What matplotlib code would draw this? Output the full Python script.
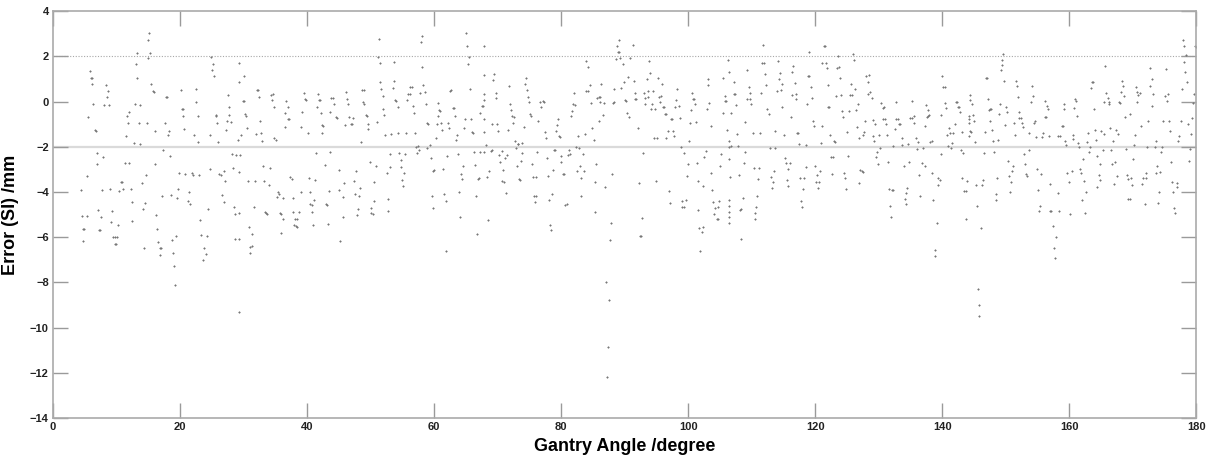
import numpy as np
import matplotlib
matplotlib.use("Agg")
import matplotlib.pyplot as plt

plt.rcParams['font.family'] = ['Liberation Sans', 'DejaVu Sans']

# (gantry angle [deg], error [mm]), grouped by angle range
pts_00_22 = [(4.42,-3.90),(4.57,-5.06),(4.75,-5.65),(4.85,-5.65),(4.78,-6.18),(5.31,-5.06),(5.57,-0.69),(5.41,-3.29),(5.78,1.35),(6.0,1.06),(6.13,1.03),(6.15,0.76),(6.36,-0.10),(6.56,-1.25),(6.72,-1.32),(6.94,-2.26),(6.94,-2.76),(7.15,-4.79),(7.25,-5.66),(7.45,-5.66),(7.57,-5.10),(7.72,-3.93),(7.93,-2.46),(8.09,-0.13),(8.30,0.74),(8.67,0.46),(8.56,0.19),(8.88,-0.15),(9.04,-3.85),(9.30,-4.84),(9.09,-5.32),(9.50,-6.01),(9.76,-6.01),(10.03,-6.01),(9.82,-6.31),(9.98,-6.31),(10.30,-5.46),(10.45,-3.97),(10.71,-3.57),(10.87,-3.57),(11.08,-3.88),(11.40,-2.72),(12.03,-2.72),(11.45,-1.54),(11.66,-0.63),(11.82,-0.94),(12.03,-0.44),(12.24,-3.87),(12.45,-4.43),(12.40,-5.29),(12.77,-1.85),(12.92,-0.10),(13.08,1.65),(13.19,2.16),(13.29,1.06),(13.50,-0.93),(13.71,-0.13),(13.76,-1.88),(14.03,-3.60),(14.13,-4.76),(14.29,-6.46),(14.45,-4.49),(14.60,-3.26),(14.76,-0.96),(14.92,1.91),(15.02,2.74),(15.08,3.03),(15.34,2.16),(15.50,0.79),(15.70,0.46),(15.86,0.41),(16.02,-1.31),(16.13,-2.75),(16.28,-5.01),(16.44,-5.62),(16.60,-6.22),(16.86,-6.46),(17.02,-6.46),(16.86,-6.79),(17.23,-4.19),(17.40,-2.16),(17.60,-0.94),(17.81,0.22),(17.97,0.22),(18.17,-1.47),(18.28,-1.28),(18.49,-2.40),(18.60,-4.15),(18.75,-6.12),(18.90,-6.72),(19.02,-7.29),(19.17,-8.13),(19.38,-5.94),(19.49,-4.25),(19.70,-3.85),(19.86,-3.18),(20.12,0.53),(20.28,-0.31),(20.43,-0.31),(20.49,-0.63),(20.64,-1.22),(20.80,-3.19),(21.38,-3.99),(21.54,-4.51),(21.33,-4.40),(21.90,-3.18),(22.01,-3.24),(22.20,-1.47)]

pts_22_45 = [(22.47,0.54),(22.58,-0.04),(22.79,-0.65),(22.90,-1.81),(23.00,-3.25),(23.16,-5.25),(23.37,-5.90),(23.74,-6.50),(23.63,-7.03),(24.05,-6.76),(24.31,-5.93),(24.47,-4.75),(24.68,-2.99),(24.73,-1.47),(24.94,1.96),(25.10,1.38),(25.26,1.66),(25.36,1.12),(25.63,-0.59),(25.73,-0.62),(25.89,-0.94),(26.05,-1.79),(26.15,-3.19),(26.41,-3.26),(26.68,-4.15),(26.89,-3.09),(26.94,-4.43),(27.10,-3.51),(27.25,-1.25),(27.36,-0.88),(27.62,0.29),(27.67,-0.25),(27.78,-0.59),(27.99,-0.90),(28.20,-2.34),(28.30,-2.96),(28.46,-4.66),(28.62,-6.10),(28.73,-4.97),(28.88,-2.38),(29.46,-2.38),(29.25,1.72),(29.30,0.88),(29.36,-4.94),(29.36,-6.10),(29.36,-3.12),(29.30,-9.29),(29.15,-1.71),(29.62,-1.47),(29.93,0.03),(30.09,0.03),(30.04,1.15),(30.30,-0.56),(30.41,-0.62),(30.62,-1.19),(30.77,-3.50),(30.88,-5.54),(31.09,-6.43),(31.30,-6.41),(31.04,-6.68),(31.40,-5.87),(31.67,-4.68),(31.77,-3.50),(31.98,-1.44),(32.19,0.53),(32.35,0.53),(32.40,0.22),(32.56,-0.87),(32.77,-1.41),(32.93,-1.74),(33.09,-2.85),(33.19,-3.50),(33.40,-4.88),(33.56,-4.94),(33.77,-4.96),(33.98,-3.68),(34.14,-2.96),(34.29,0.31),(34.61,0.35),(34.50,0.07),(34.82,-0.22),(34.87,-1.63),(35.08,-1.69),(35.24,-4.24),(35.40,-4.01),(35.61,-4.07),(35.76,-4.94),(35.97,-4.96),(35.87,-5.81),(36.18,-5.18),(36.24,-4.26),(36.45,-1.13),(36.60,-0.49),(36.76,0.04),(37.02,-0.22),(36.97,-0.75),(37.18,-0.79),(37.39,-3.35),(37.55,-3.41),(37.71,-4.28),(37.81,-4.88),(37.97,-5.44),(38.18,-5.51),(38.44,-5.53),(38.13,-5.21),(38.44,-5.21),(38.76,-4.87),(38.97,-3.99),(39.12,-1.12),(39.28,-0.47),(39.44,0.38),(39.60,0.12),(39.81,0.06),(40.07,-1.37),(40.28,-3.38),(40.44,-4.01),(40.49,-4.51),(40.70,-4.59),(40.70,-4.88),(40.86,-5.44),(41.07,-4.34),(41.28,-3.47),(41.43,-2.28),(41.49,-0.22),(41.70,0.32),(41.86,0.07),(42.01,0.07),(42.17,-0.49),(42.33,-1.03),(42.54,-1.10),(42.38,-1.37),(42.75,-2.79),(42.96,-4.51),(43.06,-4.56),(43.22,-5.41),(43.38,-3.96),(43.54,-2.22),(43.64,-0.46),(43.80,0.18),(44.11,0.18),(44.17,-0.09),(44.53,-0.66),(44.74,-0.74),(44.95,-3.01),(45.06,-3.93),(45.17,-6.16)]

pts_45_68 = [(45.58,-5.10),(45.68,-4.22),(45.84,-3.59),(45.95,-1.04),(46.10,0.43),(46.26,0.13),(46.42,-0.12),(46.63,-0.68),(47.21,-0.74),(46.94,-0.97),(47.15,-1.00),(47.42,-3.51),(47.47,-4.07),(47.68,-3.06),(47.84,-5.01),(48.00,-4.74),(48.15,-4.18),(48.36,-3.81),(48.47,-1.81),(48.62,0.51),(48.99,0.51),(48.78,-0.04),(48.99,-0.09),(49.25,-0.60),(49.41,-0.63),(49.57,-1.21),(49.67,-0.99),(49.83,-2.69),(50.09,-4.72),(50.04,-4.93),(50.36,-4.99),(50.46,-4.40),(50.57,-3.54),(50.78,-2.87),(50.99,-0.90),(51.14,1.96),(51.30,2.79),(51.41,1.69),(51.51,0.88),(51.67,0.54),(51.88,0.26),(51.99,-0.31),(52.14,-0.60),(52.30,-1.50),(52.51,-3.15),(52.67,-4.29),(52.77,-4.84),(52.98,-2.91),(53.09,-2.34),(53.25,-1.43),(53.46,0.60),(53.61,1.74),(53.72,0.93),(53.88,0.07),(54.03,0.04),(54.24,-0.26),(54.30,-1.40),(54.45,-2.29),(54.72,-2.60),(54.82,-2.90),(54.98,-3.47),(55.08,-3.72),(55.24,-3.18),(55.40,-2.31),(55.56,-1.37),(55.77,0.06),(55.92,0.35),(56.13,0.35),(56.24,0.65),(56.50,0.65),(56.61,-0.19),(56.76,-0.51),(56.97,-1.40),(57.18,-1.99),(57.45,-1.96),(57.29,-2.28),(57.55,-2.15),(57.71,0.40),(57.92,2.62),(58.08,2.91),(58.13,1.54),(58.29,0.72),(58.50,0.44),(58.66,-0.12),(58.81,-0.96),(59.02,-1.01),(58.92,-2.07),(59.28,-1.91),(59.44,-2.49),(59.60,-4.16),(59.76,-4.71),(59.86,-3.06),(60.02,-3.01),(60.23,-1.59),(60.44,-0.99),(60.55,-0.62),(60.65,-0.07),(60.81,-0.37),(60.97,-0.40),(61.12,-0.96),(61.23,-1.26),(61.39,-2.97),(61.60,-4.10),(61.91,-4.40),(61.81,-6.59),(62.02,-2.40),(62.17,-0.96),(62.33,-1.18),(62.54,0.49),(62.70,0.51),(62.96,-0.29),(63.12,-0.29),(63.22,-0.62),(63.43,-1.69),(63.59,-1.47),(63.69,-2.31),(63.85,-4.00),(64.01,-5.10),(64.27,-3.22),(64.43,-3.44),(64.54,-2.84),(64.70,-1.15),(64.85,-0.78),(64.96,3.03),(65.12,2.47),(65.33,1.66),(65.48,1.96),(65.64,0.57),(65.80,-0.76),(65.96,-1.35),(66.11,-1.40),(66.22,-2.24),(66.38,-2.79),(66.53,-4.19),(66.74,-5.84),(66.85,-3.41),(67.01,-3.38),(67.16,-2.25),(67.27,-0.51),(67.48,-0.19),(67.69,-0.19),(67.79,0.32),(67.90,0.07),(67.85,1.18),(67.90,2.44),(67.90,-0.76),(67.90,-1.34),(67.90,-2.25)]

pts_68_91 = [(68.16,-1.94),(68.32,-3.34),(68.53,-5.24),(68.69,-3.06),(68.95,-2.18),(69.06,-2.15),(69.16,-1.01),(69.48,1.21),(69.32,0.94),(69.69,0.37),(69.74,0.15),(69.90,-0.99),(70.06,-1.28),(70.27,-2.38),(70.37,-2.68),(70.63,-2.18),(70.84,-3.01),(70.63,-3.51),(71.05,-3.57),(71.21,-2.49),(71.37,-4.03),(71.53,-2.37),(71.58,-1.24),(71.79,0.69),(71.95,-0.10),(72.10,-0.37),(72.21,-0.65),(72.52,-0.68),(72.37,-0.96),(72.73,-1.75),(72.94,-2.04),(73.15,-1.87),(73.20,-1.87),(73.00,-2.87),(73.42,-3.43),(73.57,-3.46),(73.68,-2.63),(73.84,-1.82),(73.89,-2.29),(74.15,-1.13),(74.31,0.76),(74.47,1.03),(74.57,0.51),(74.73,0.22),(74.89,-0.03),(75.05,-0.57),(75.26,-0.62),(75.36,-2.76),(75.52,-3.35),(76.10,-3.35),(75.73,-4.19),(75.99,-4.19),(75.83,-4.46),(76.25,-2.22),(76.41,-0.85),(76.62,0.0),(77.09,0.03),(77.25,0.0),(76.83,-0.26),(77.41,-1.35),(77.62,-1.63),(77.78,-2.49),(77.99,-3.31),(78.14,-4.37),(78.30,-5.46),(78.41,-5.68),(78.62,-4.10),(78.77,-3.01),(78.93,-2.16),(79.09,-2.12),(79.25,-1.29),(79.35,-1.04),(79.51,-0.76),(79.67,-1.51),(79.88,-1.56),(79.99,-2.41),(79.99,-2.66),(80.30,-3.19),(80.50,-3.19),(80.67,-4.56),(80.88,-4.51),(81.08,-2.37),(81.30,-2.15),(81.45,-2.32),(81.61,-0.65),(81.66,-0.43),(81.87,-0.12),(82.19,-0.15),(82.03,0.38),(82.29,-2.00),(82.45,-3.07),(82.61,-1.54),(82.82,-2.07),(82.98,-2.85),(83.13,-3.40),(83.19,-4.18),(83.40,-2.31),(83.55,-3.07),(83.71,-1.44),(83.97,0.46),(84.18,0.49),(83.97,1.79),(84.29,1.53),(84.50,0.74),(84.71,-0.07),(84.92,-1.15),(85.13,-1.71),(85.34,-3.57),(85.39,-4.88),(85.55,-2.76),(85.71,0.16),(85.92,0.22),(86.18,0.22),(85.92,-0.84),(86.18,0.0),(86.34,0.76),(86.60,-0.59),(86.81,-0.06),(86.92,-3.76),(87.07,-7.97),(87.28,-12.19),(87.39,-10.88),(87.55,-8.76),(87.70,-6.13),(87.86,-5.35),(88.02,-3.22),(88.18,-0.06),(88.33,0.0),(88.39,0.54),(88.60,1.90),(88.75,2.46),(88.96,2.19),(89.17,2.19),(89.12,2.72),(89.28,1.94),(89.49,0.59),(89.70,1.65),(89.86,0.85),(90.07,0.07),(90.22,0.03),(90.33,-0.51),(90.54,1.07),(90.75,-0.68),(90.85,1.94)]

pts_91_114 = [(91.27,2.51),(91.48,0.93),(91.69,0.38),(91.58,0.13),(91.85,0.13),(92.06,-1.18),(92.27,-3.59),(92.42,-5.94),(92.53,-5.94),(92.69,-5.15),(92.84,-2.26),(93.00,0.37),(93.16,-0.09),(93.21,0.18),(93.47,0.99),(93.63,0.47),(93.74,0.22),(93.89,1.79),(94.05,1.26),(94.21,-0.32),(94.84,-0.32),(94.37,-0.10),(94.47,0.47),(94.63,-1.63),(95.05,-1.63),(95.00,-3.50),(95.26,1.04),(95.42,0.21),(95.68,0.24),(95.57,-0.03),(95.94,0.78),(96.05,-0.26),(96.20,-0.26),(96.36,-0.53),(96.57,-0.53),(96.57,-1.59),(96.84,-1.32),(97.00,-3.96),(97.15,-4.47),(97.36,-0.78),(97.52,-0.75),(97.57,-1.29),(97.78,-1.54),(97.89,-0.22),(98.04,0.06),(98.30,0.57),(98.57,-0.19),(98.73,-0.71),(98.83,-2.01),(98.99,-4.65),(99.36,-4.65),(99.09,-4.40),(99.62,-4.37),(99.30,-2.29),(99.83,-3.31),(99.99,-2.76),(100.09,-1.74),(100.25,-0.93),(100.41,-0.38),(100.62,0.38),(100.83,0.13),(101.04,-0.12),(100.72,0.13),(101.20,-0.90),(101.35,-2.72),(101.46,-3.50),(101.61,-4.81),(101.77,-5.59),(102.25,-5.57),(102.09,-5.79),(101.93,-6.60),(102.40,-3.74),(102.56,-2.43),(102.72,-2.18),(102.93,-0.34),(103.09,0.72),(103.09,0.99),(103.30,-0.06),(103.51,-1.09),(103.66,-3.16),(103.77,-3.93),(103.93,-4.43),(104.08,-4.97),(104.24,-4.71),(104.71,-4.68),(104.45,-5.21),(104.66,-5.21),(104.87,-4.41),(105.03,-2.85),(105.13,-2.34),(105.40,-0.51),(105.45,1.03),(105.71,0.03),(105.92,0.03),(105.82,0.26),(107.23,0.32),(107.39,0.32),(106.08,-1.25),(106.29,1.82),(106.34,1.32),(106.34,-1.75),(106.34,-1.99),(106.66,-1.97),(106.34,-2.53),(106.34,-4.35),(106.40,-4.60),(106.34,-4.87),(106.34,-5.10),(106.34,-5.37),(106.55,-3.32),(106.81,-0.49),(107.18,0.85),(107.44,-0.16),(107.60,-1.44),(107.76,-1.97),(107.97,-3.25),(108.13,-4.79),(108.34,-4.76),(108.23,-6.07),(108.55,-4.26),(108.76,-2.72),(108.92,-2.22),(108.97,-0.91),(109.18,0.12),(109.65,0.12),(109.28,1.41),(109.49,0.63),(109.70,0.38),(109.91,-0.10),(110.12,-1.37),(110.28,-2.93),(111.17,-2.93),(110.44,-5.21),(110.54,-4.93),(110.65,-4.68),(110.86,-4.18),(111.02,-3.43),(111.28,-1.37),(111.49,0.40),(111.65,1.72),(111.86,1.72),(111.80,2.49),(112.07,1.24),(112.22,0.72),(112.43,-0.31),(112.64,-0.53),(112.85,-2.07),(113.59,-2.07),(113.01,-3.34),(113.17,-3.84),(113.38,-3.57),(113.48,-3.07),(113.64,-1.29)]

pts_114_136 = [(114.12,1.78),(114.38,1.28),(114.22,1.01),(114.70,0.79),(113.96,0.49),(114.54,0.53),(114.80,-0.22),(115.01,-1.50),(115.17,-2.49),(115.38,-2.72),(115.96,-2.72),(115.75,-2.99),(115.54,-3.46),(115.64,-3.74),(116.11,-0.69),(116.38,1.31),(116.53,1.59),(116.74,0.84),(116.32,0.29),(117.01,0.34),(116.90,0.10),(117.16,-1.41),(117.32,-1.40),(117.48,-1.88),(118.53,-1.91),(117.64,-3.40),(118.27,-3.40),(117.74,-4.40),(117.90,-4.65),(118.06,-3.87),(118.48,-2.91),(118.69,-0.12),(118.90,1.13),(119.05,1.13),(119.00,2.18),(119.32,0.65),(119.47,0.16),(119.63,-0.84),(119.84,-1.09),(119.95,-2.84),(120.21,-3.26),(120.05,-3.57),(120.58,-3.57),(120.42,-3.81),(120.68,-3.09),(120.84,-1.84),(121.00,-1.09),(121.10,1.69),(121.63,1.72),(121.37,2.46),(121.52,2.46),(121.79,1.47),(121.94,0.72),(122.00,-0.26),(122.21,-0.24),(122.36,-1.47),(122.52,-2.47),(122.84,-2.47),(122.63,-3.22),(122.89,-1.75),(123.10,-1.81),(123.20,0.24),(123.52,2.01),(123.36,1.47),(123.73,1.53),(123.89,1.03),(124.04,0.28),(124.25,-0.43),(124.36,-0.66),(124.52,-3.16),(124.73,-3.40),(124.83,-3.88),(124.94,-1.35),(125.10,-2.40),(125.30,-0.43),(125.52,0.28),(125.73,0.29),(125.57,0.79),(125.88,2.09),(126.04,1.82),(126.25,0.57),(126.36,-0.38),(126.51,-1.12),(126.67,-0.12),(126.83,-1.59),(126.93,-3.59),(127.09,-3.04),(127.30,-3.07),(127.51,-3.10),(127.46,-1.50),(127.67,-1.35),(127.88,-0.87),(127.98,1.13),(128.46,1.16),(128.30,0.87),(128.25,0.35),(128.67,0.41),(128.88,0.18),(129.03,-0.81),(129.14,-1.54),(129.30,-1.75),(129.45,-1.00),(129.56,-2.46),(129.66,-2.21),(129.87,-2.74),(130.03,-1.50),(130.24,-2.06),(130.40,-0.07),(130.66,-0.29),(130.82,-0.25),(130.61,-0.79),(130.97,-0.76),(131.13,-0.99),(131.24,-1.47),(131.40,-2.68),(131.55,-3.88),(132.03,-3.93),(132.24,-3.93),(131.82,-4.63),(131.92,-5.10),(132.29,-1.96),(132.55,-1.22),(132.76,-0.03),(132.71,-0.76),(132.97,-0.75),(133.13,-0.99),(133.39,-0.97),(133.60,-1.94),(133.71,-1.62),(133.92,-2.85),(134.08,-4.32),(134.23,-4.04),(134.29,-4.53),(134.50,-3.84),(134.65,-1.88),(134.81,-2.69),(134.92,-0.71),(135.28,-0.71),(135.23,0.04),(135.49,-0.63),(135.60,-0.93),(135.91,-1.59),(136.07,-2.10),(136.23,-1.81),(136.33,-3.25),(136.44,-4.19)]

pts_137_157 = [(136.85,-2.72),(137.22,-2.84),(136.96,-2.04),(137.27,-1.10),(137.38,-0.15),(137.54,-0.66),(137.75,-0.62),(137.90,-0.59),(137.75,-0.38),(138.11,-1.79),(138.32,-1.75),(138.43,-3.18),(138.59,-4.35),(138.80,-6.81),(138.90,-6.57),(139.11,-5.35),(139.27,-3.40),(139.37,-3.69),(139.58,-3.47),(139.74,-2.31),(139.85,-0.60),(140.00,1.15),(140.16,0.66),(140.37,0.63),(140.42,-0.07),(140.58,-0.28),(140.74,-1.49),(141.16,-1.40),(141.68,-1.40),(140.90,-1.97),(141.37,-2.07),(141.05,-1.16),(141.53,-1.82),(141.95,-0.99),(142.16,-0.01),(142.31,-0.03),(142.42,-0.25),(142.58,-0.25),(142.74,-0.44),(142.89,-2.15),(143.05,-3.37),(143.16,-1.35),(143.31,-2.28),(143.47,-3.94),(143.79,-3.97),(143.68,-5.18),(143.89,-3.51),(144.15,-1.54),(144.21,-0.63),(144.21,-0.76),(144.21,-0.96),(144.36,0.28),(144.36,0.07),(144.31,-1.32),(144.52,-1.35),(144.68,-0.12),(144.89,-0.60),(144.94,-0.87),(145.15,-1.79),(145.31,-3.71),(145.47,-4.63),(145.57,-8.28),(145.78,-9.00),(145.73,-9.49),(146.04,-5.60),(146.20,-3.69),(146.36,-3.46),(146.52,-2.26),(146.67,-1.34),(146.88,1.06),(147.04,1.04),(147.15,0.10),(147.30,-0.37),(147.51,-0.34),(147.67,-0.31),(147.57,-0.84),(147.88,-1.25),(148.04,-1.74),(148.20,-2.21),(148.41,-4.10),(148.51,-4.34),(148.67,-3.40),(148.83,-1.71),(148.98,-0.53),(149.09,-0.09),(149.25,1.38),(149.35,1.60),(149.46,1.85),(149.62,2.10),(149.77,0.93),(149.88,-1.04),(150.04,-0.25),(150.19,-0.46),(150.35,-2.63),(150.51,-3.31),(150.61,-4.00),(150.77,-3.54),(150.93,-3.09),(151.14,-2.87),(151.30,-0.94),(151.45,-1.49),(151.56,0.93),(151.72,0.69),(151.87,0.21),(152.14,-0.47),(152.08,-0.72),(152.35,-0.71),(152.50,-0.94),(152.66,-1.13),(152.82,-2.31),(152.98,-2.76),(153.13,-3.21),(153.40,-3.28),(153.66,-1.37),(153.71,-2.16),(153.92,0.00),(154.08,0.71),(154.24,0.25),(154.50,-0.94),(154.66,-0.88),(154.82,-1.56),(155.65,-1.56),(155.81,-1.38),(154.92,-2.99),(155.08,-3.90),(155.24,-4.84),(155.40,-4.63),(155.60,-3.22),(156.08,-0.69),(156.29,-0.68),(156.23,0.04),(156.50,-0.18),(156.60,-0.35),(156.76,-1.54),(156.92,-3.65),(157.02,-4.84),(157.18,-4.82),(157.39,-5.51)]

pts_157_180 = [(157.60,-6.47),(157.81,-6.91),(157.96,-5.97),(158.17,-4.03),(158.33,-4.85),(158.28,-1.54),(158.59,-1.54),(158.86,-1.10),(159.01,-1.10),(159.12,-0.12),(159.17,-0.31),(159.38,-1.76),(159.54,-1.94),(159.70,-3.15),(159.91,-3.57),(160.12,-4.97),(160.33,-3.09),(160.54,-1.66),(160.64,-1.47),(160.75,-0.29),(160.90,0.10),(161.06,0.04),(161.27,-0.65),(161.32,-1.82),(161.48,-2.00),(161.69,-2.99),(161.85,-3.18),(162.01,-4.34),(162.11,-2.54),(162.27,-3.50),(162.43,-4.93),(162.58,-3.99),(162.80,-1.79),(162.85,-1.40),(163.06,-2.22),(163.27,-2.01),(163.37,0.62),(163.48,0.85),(163.69,0.85),(163.85,-0.32),(164.00,-1.26),(164.16,-1.72),(164.27,-2.41),(164.42,-3.79),(164.58,-3.25),(164.79,-3.46),(164.84,-2.75),(165.00,-1.32),(165.21,-2.13),(165.37,-1.44),(165.47,-0.04),(165.63,1.59),(165.79,0.37),(166.00,0.16),(166.16,-0.12),(166.26,-0.00),(166.42,-1.19),(166.58,-2.12),(166.68,-2.76),(167.15,-2.69),(166.89,-1.75),(167.00,-3.65),(167.36,-1.26),(167.52,-3.29),(167.63,-1.43),(167.78,-0.03),(167.99,-0.07),(168.15,0.41),(168.26,0.91),(168.36,0.69),(168.57,0.25),(168.78,-0.69),(168.94,-2.09),(169.10,-3.25),(169.26,-4.31),(169.47,-4.31),(169.20,-3.43),(169.68,-3.40),(169.57,-0.53),(169.78,-3.69),(169.94,-2.54),(170.10,-1.91),(170.25,-1.50),(170.52,0.66),(170.67,0.43),(170.83,0.29),(171.04,0.37),(170.67,-0.01),(171.25,-1.07),(171.41,-3.63),(171.62,-3.37),(171.99,-3.40),(171.83,-4.54),(172.09,-3.18),(172.25,-2.00),(172.40,-0.87),(172.61,1.47),(172.72,0.69),(172.93,0.99),(173.04,-0.19),(173.19,0.34),(173.40,-2.03),(173.56,-1.75),(173.67,-3.15),(174.19,-3.10),(173.82,-2.87),(173.98,-4.50),(174.14,-4.01),(174.35,-2.22),(174.51,-2.00),(174.77,-0.87),(175.66,-0.87),(174.98,0.25),(175.35,0.04),(175.14,1.44),(175.50,0.32),(175.82,-1.29),(175.98,-2.69),(176.19,-3.56),(176.98,-3.59),(176.35,-4.01),(176.50,-4.69),(176.66,-4.94),(176.87,-3.76),(177.13,-1.74),(177.29,-1.54),(177.50,-0.84),(177.66,0.57),(177.82,2.71),(178.03,2.47),(178.08,1.75),(178.24,1.31),(178.40,2.04),(178.55,0.87),(178.71,-1.01),(178.87,-2.62),(179.02,-2.10),(179.18,-1.43),(179.34,-0.72),(179.50,-0.06),(179.65,0.34),(179.80,2.44),(179.95,2.41)]

x_ticks = [0, 20, 40, 60, 80, 100, 120, 140, 160, 180]
y_ticks = [-14, -12, -10, -8, -6, -4, -2, 0, 2, 4]
tolerance_lines = [2, -2]

data = np.array(pts_00_22 + pts_22_45 + pts_45_68 + pts_68_91 + pts_91_114
                + pts_114_136 + pts_137_157 + pts_157_180)
angle = data[:, 0]
error = data[:, 1]

fig = plt.figure(figsize=(12.23, 4.66), dpi=100)
ax = fig.add_axes([0.0433, 0.103, 0.935, 0.873])

ax.axhline(tolerance_lines[0], color='#a8a8a8', lw=0.8, ls=(0, (1, 1.5)), zorder=1)
ax.axhline(tolerance_lines[1], color='#dadada', lw=1.6, ls='-', zorder=1)

ax.scatter(angle, error, marker='+', s=4.5, linewidths=0.8, color='#777777', zorder=2)

ax.set_xlim(0, 180)
ax.set_ylim(-14, 4)
ax.set_xticks(x_ticks)
ax.set_yticks(y_ticks)
ax.set_xticklabels([str(t) for t in x_ticks])
ax.set_yticklabels([str(t).replace('-', '\u2212') for t in y_ticks])
ax.tick_params(direction='in', length=11, width=1.0, color='#9a9a9a',
               top=True, right=True, labelsize=8, pad=3)
for lab in ax.get_xticklabels() + ax.get_yticklabels():
    lab.set_fontweight('bold')
    lab.set_color('#222222')
for s in ax.spines.values():
    s.set_color('#aaaaaa')
    s.set_linewidth(1.2)

ax.set_xlabel('Gantry Angle /degree', fontsize=13, fontweight='bold', labelpad=4)
ax.set_ylabel('Error (SI) /mm', fontsize=13, fontweight='bold', labelpad=8)

fig.savefig('out.png', dpi=100)
